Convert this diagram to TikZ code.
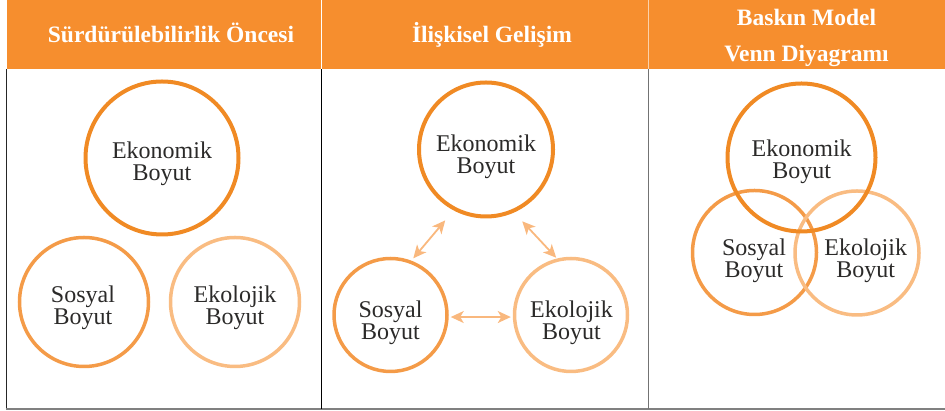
\documentclass[tikz,border=0pt]{standalone}
\usepackage{fontspec}
\setmainfont{Liberation Serif}
\usetikzlibrary{shapes}
\usetikzlibrary{arrows.meta}

\definecolor{headorange}{HTML}{F68E2E}
\definecolor{ekoorange}{HTML}{F08A24}
\definecolor{sosorange}{HTML}{F49B48}
\definecolor{ekolorange}{HTML}{F9BC82}
\definecolor{arroworange}{HTML}{F9B87E}
\definecolor{textgray}{HTML}{2B2A29}

\begin{document}
\begin{tikzpicture}[x=1pt,y=1pt]
	\tikzstyle{every node}=[inner sep=0pt]
	\tikzstyle{head}=[font=\fontsize{23.5}{36}\selectfont\bfseries,text=white,anchor=base]
	\tikzstyle{lbl}=[font=\fontsize{24}{22.5}\selectfont,text=textgray,align=center]
	\tikzstyle{ring}=[circle,draw,line width=3.5pt]
	\tikzstyle{biarrow}=[draw=arroworange,line width=1.8pt,>={Stealth[length=13pt,width=12pt,inset=3.5pt]},<->]
	
	\useasboundingbox (0,0) rectangle (945,411);
	
	% header band and frame
	\fill[headorange] (7,342) rectangle (945,411);
	\draw[white,line width=1pt] (321,342) -- (321,411);
	\draw[white!60!headorange,line width=1pt] (648.5,342) -- (648.5,411);
	\draw[black!85,line width=1.3pt] (6.5,342) -- (6.5,1.5);
	\draw[black!50,line width=2pt] (5.8,2.3) -- (945,2.3);
	\draw[black,line width=0.8pt] (321,342) -- (321,2.3);
	\draw[black!55,line width=1.5pt] (648.5,342) -- (648.5,2.3);
	
	\node[head] (head1) at (171,368) {Sürdürülebilirlik Öncesi};
	\node[head] (head2) at (492,368) {İlişkisel Gelişim};
	\node[head] (head3a) at (806.5,385) {Baskın Model};
	\node[head] (head3b) at (806.5,349) {Venn Diyagramı};
	
	% panel 1
	\node[ring,draw=ekoorange,line width=4pt,minimum size=153pt] (eko1) at (162,253) {};
	\node[ring,draw=sosorange,minimum size=129pt] (sos1) at (84,109) {};
	\node[ring,draw=ekolorange,minimum size=129pt] (ekol1) at (235,109) {};
	\node[lbl] (eko1t) at (162,247.1) {Ekonomik\\Boyut};
	\node[lbl] (sos1t) at (83,103.4) {Sosyal\\Boyut};
	\node[lbl] (ekol1t) at (235,103.4) {Ekolojik\\Boyut};
	
	% panel 2
	\node[ring,draw=ekoorange,line width=4pt,minimum size=134pt] (eko2) at (486,261.5) {};
	\node[ring,draw=sosorange,minimum size=113pt] (sos2) at (390.5,96) {};
	\node[ring,draw=ekolorange,minimum size=113pt] (ekol2) at (571,96) {};
	\node[lbl] (eko2t) at (486,254.1) {Ekonomik\\Boyut};
	\node[lbl] (sos2t) at (390.5,88.4) {Sosyal\\Boyut};
	\node[lbl] (ekol2t) at (571.5,88.4) {Ekolojik\\Boyut};
	
	\draw[biarrow,shorten <=13pt,shorten >=3pt] (eko2.242.7) -- (sos2.69.3);
	\draw[biarrow,shorten <=12pt,shorten >=1pt] (eko2.294.9) -- (ekol2.104.6);
	\draw[biarrow,shorten <=2pt,shorten >=2pt] (sos2.-2.2) -- (ekol2.182.2);
	
	% panel 3
	\node[ring,draw=sosorange,minimum size=124pt] (sos3) at (754.5,158.5) {};
	\node[ring,draw=ekolorange,minimum size=124pt] (ekol3) at (857,158) {};
	\node[ring,draw=ekoorange,line width=4pt,minimum size=148pt] (eko3) at (801.5,253.5) {};
	\node[lbl] (eko3t) at (801.7,249.1) {Ekonomik\\Boyut};
	\node[lbl] (sos3t) at (754,150.1) {Sosyal\\Boyut};
	\node[lbl] (ekol3t) at (865.7,150.1) {Ekolojik\\Boyut};
	
\end{tikzpicture}
\end{document}
